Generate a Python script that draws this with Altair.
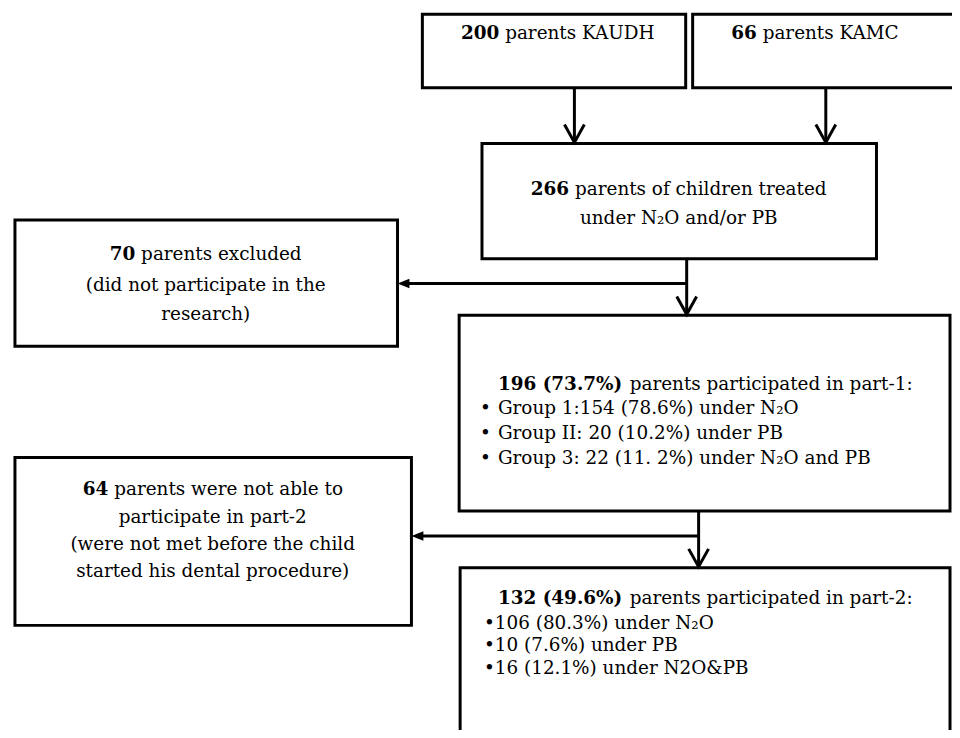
import altair as alt
import pandas as pd

# ---------------- text content ----------------
kaudh_count, kaudh_rest = "200", "parents KAUDH"
kamc_count, kamc_rest = "66", "parents KAMC"
total_count, total_rest = "266", "parents of children treated"
total_line2 = "under N₂O and/or PB"
excl_count, excl_rest = "70", "parents excluded"
excl_lines = ["(did not participate in the", "research)"]
part1_bold, part1_rest = "196 (73.7%)", "parents participated in part-1:"
part1_bullets = ["Group 1:154 (78.6%) under N₂O",
                 "Group II: 20 (10.2%) under PB",
                 "Group 3: 22 (11. 2%) under N₂O and PB"]
notmet_count, notmet_rest = "64", "parents were not able to"
notmet_lines = ["participate in part-2",
                "(were not met before the child",
                "started his dental procedure)"]
part2_bold, part2_rest = "132 (49.6%)", "parents participated in part-2:"
part2_bullets = ["•106 (80.3%) under N₂O",
                 "•10 (7.6%) under PB",
                 "•16 (12.1%) under N2O&PB"]

# ---------------- layout (page pixel coordinates) ----------------
W, H = 950, 722
xs = alt.Scale(domain=[8, 8 + W], nice=False, zero=False)
ys = alt.Scale(domain=[8, 8 + H], reverse=True, nice=False, zero=False)
FONT = "DejaVu Serif"
FS = 18.5

# approximate DejaVu Serif advance widths (units of 1/2048 em) for layout of mixed-weight lines
_REG = {" ": 651, "(": 799, ")": 799, "%": 1946, ".": 651, ":": 690, "-": 739, "/": 690,
        "a": 1221, "b": 1311, "c": 1147, "d": 1311, "e": 1212, "f": 758, "g": 1311, "h": 1319,
        "i": 655, "k": 1251, "l": 655, "m": 1983, "n": 1319, "o": 1233, "p": 1311, "r": 979,
        "s": 1051, "t": 823, "u": 1319, "v": 1167, "w": 1700, "x": 1167, "y": 1167,
        "A": 1478, "C": 1497, "D": 1696, "H": 1792, "K": 1532, "M": 2064, "U": 1751}
_BOLD = {" ": 713, "(": 969, ")": 969, "%": 2052, ".": 780}

def tw(s, bold=False):
    tot = 0
    for ch in s:
        if ch.isdigit():
            tot += 1425 if bold else 1303
        elif bold and ch in _BOLD:
            tot += _BOLD[ch]
        else:
            tot += _REG.get(ch, 1250) * (1.08 if bold else 1.0)
    return tot / 2048 * FS

SP = tw(" ")

boxes = pd.DataFrame([
    dict(x=425, x2=690, y=12, y2=86),     # KAUDH
    dict(x=697, x2=990, y=12, y2=86),     # KAMC (runs off right edge)
    dict(x=485, x2=882, y=142, y2=258),   # 266
    dict(x=15, x2=400, y=219, y2=346),    # excluded
    dict(x=462, x2=956, y=315, y2=512),   # part-1
    dict(x=15, x2=414, y=458, y2=627),    # not able
    dict(x=463, x2=956, y=569, y2=800),   # part-2 (runs off bottom)
])

A_X, B_X, C_X, D_X = 578, 831, 691, 703
segs = pd.DataFrame([
    dict(x=A_X, y=86, x2=A_X, y2=140),
    dict(x=B_X, y=86, x2=B_X, y2=140),
    dict(x=C_X, y=258, x2=C_X, y2=313),
    dict(x=C_X, y=283, x2=406, y2=283),
    dict(x=D_X, y=512, x2=D_X, y2=567),
    dict(x=D_X, y=537, x2=420, y2=537),
])

chev_rows = []
for i, (cx, tip) in enumerate([(A_X, 141), (B_X, 141), (C_X, 314), (D_X, 568)]):
    chev_rows += [dict(c=i, o=0, x=cx - 10, y=tip - 18),
                  dict(c=i, o=1, x=cx, y=tip),
                  dict(c=i, o=2, x=cx + 10, y=tip - 18)]
chev = pd.DataFrame(chev_rows)

tri = pd.DataFrame([dict(x=400 + 6, y=283), dict(x=414 + 6, y=537)])

def X(f="x"):
    return alt.X(f"{f}:Q", scale=xs, axis=None)

def Y(f="y"):
    return alt.Y(f"{f}:Q", scale=ys, axis=None)

rect = alt.Chart(boxes).mark_rect(fill="white", stroke="black", strokeWidth=3).encode(
    x=X(), x2="x2:Q", y=Y(), y2="y2:Q")

rules = alt.Chart(segs).mark_rule(color="black", strokeWidth=3).encode(
    x=X(), x2="x2:Q", y=Y(), y2="y2:Q")

chevrons = alt.Chart(chev).mark_line(color="black", strokeWidth=3, strokeJoin="miter").encode(
    x=X(), y=Y(), detail="c:N", order="o:Q")

heads = alt.Chart(tri).mark_point(shape="M-1,0L1,-0.8L1,0.8Z", filled=True, opacity=1,
                                   color="black", size=144).encode(x=X(), y=Y())

rows = []

def centered_mixed(bold, rest, cx, y):
    wb, wr = tw(bold, True), tw(rest)
    x0 = cx - (wb + SP + wr) / 2
    rows.append((bold, x0, y, "left", "bold"))
    rows.append((rest, x0 + wb + SP, y, "left", "normal"))

def left_mixed(bold, rest, x0, y):
    wb = tw(bold, True)
    rows.append((bold, x0, y, "left", "bold"))
    rows.append((rest, x0 + wb + SP, y, "left", "normal"))

centered_mixed(kaudh_count, kaudh_rest, 562, 37)
centered_mixed(kamc_count, kamc_rest, 820, 37)
centered_mixed(total_count, total_rest, 683, 194)
rows.append((total_line2, 683, 223, "center", "normal"))
centered_mixed(excl_count, excl_rest, 207, 259)
rows.append((excl_lines[0], 207, 291, "center", "normal"))
rows.append((excl_lines[1], 207, 320, "center", "normal"))
left_mixed(part1_bold, part1_rest, 501, 390)
for t, yy in zip(part1_bullets, [414, 439, 465]):
    rows.append(("•", 483, yy, "left", "normal"))
    rows.append((t, 501, yy, "left", "normal"))
centered_mixed(notmet_count, notmet_rest, 214, 496)
for t, yy in zip(notmet_lines, [524, 551, 578]):
    rows.append((t, 214, yy, "center", "normal"))
left_mixed(part2_bold, part2_rest, 501, 605)
for t, yy in zip(part2_bullets, [631, 653, 676]):
    rows.append((t, 487, yy, "left", "normal"))

txt = pd.DataFrame(rows, columns=["label", "px", "py", "al", "wt"])

text_layers = []
for al in ["left", "center"]:
    for wt in ["normal", "bold"]:
        sub = txt[(txt["al"] == al) & (txt["wt"] == wt)]
        if len(sub) == 0:
            continue
        text_layers.append(
            alt.Chart(sub).mark_text(align=al, baseline="alphabetic", font=FONT, fontSize=FS,
                                     fontWeight=wt, color="black").encode(
                x=X("px"), y=Y("py"), text="label:N"))

chart = alt.layer(rect, rules, chevrons, heads, *text_layers).properties(
    width=W, height=H, padding=0, autosize=alt.AutoSizeParams(type="none"),
    background="white"
).configure_view(stroke=None)

chart.save("out.html", embed_options={"renderer": "svg", "actions": False})
